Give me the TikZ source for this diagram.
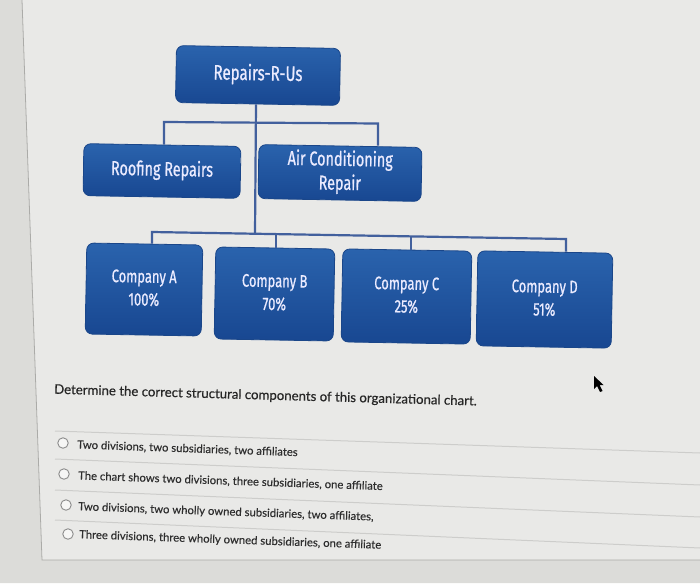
\documentclass[tikz,border=0pt]{standalone}
\usepackage{fontspec}
\setmainfont{Lato}
\newfontfamily\boxfont[FakeStretch=0.72,FakeBold=0.7]{Fira Sans}
\newfontfamily\qfont[FakeBold=0.45]{Lato}
\newfontfamily\ofont[FakeBold=0.3]{Lato}
\usetikzlibrary{calc}
\definecolor{bg}{HTML}{E9E9E7}
\definecolor{bgdark}{HTML}{DCDCD9}
\definecolor{edge}{HTML}{ABABA8}
\definecolor{boxtop}{HTML}{2A63AD}
\definecolor{boxbot}{HTML}{184791}
\definecolor{boxedge}{HTML}{1A4689}
\definecolor{conn}{HTML}{42609D}
\definecolor{sep}{HTML}{CDCDCB}
\definecolor{qtext}{HTML}{262626}
\definecolor{otext}{HTML}{2E2E2E}
\definecolor{radio}{HTML}{8C8C8C}
\newcommand{\boxtext}[2]{\raisebox{#1}{\begin{tabular}{@{}c@{}}#2\end{tabular}}}
\tikzset{
  orgbox/.style={rectangle, rounded corners=7pt, inner sep=0pt, top color=boxtop, bottom color=boxbot,
    draw=boxedge, line width=0.8pt, text=white!92!blue, align=center, rotate=-1},
  bigtext/.style={font=\boxfont\fontsize{20}{24}\selectfont},
  smalltext/.style={font=\boxfont\fontsize{18}{23}\selectfont},
  connline/.style={draw=conn, line width=2.2pt},
  sepline/.style={draw=sep, line width=1pt},
  radiobtn/.style={circle, draw=radio, line width=0.9pt, minimum size=10.5pt, inner sep=0pt, fill=white!60!bg},
  opttext/.style={anchor=west, rotate=-2, inner sep=0pt, text=otext, font=\ofont\fontsize{11.3}{13}\selectfont}
}
\begin{document}
\begin{tikzpicture}[x=1pt,y=-1pt]
\useasboundingbox (0,0) rectangle (700,583);
\fill[bg] (0,0) rectangle (700,583);
\fill[bgdark] (0,0) -- (22,0) -- (42,560) -- (700,560) -- (700,583) -- (0,583) -- cycle;
\draw[edge, line width=0.8pt] (22,0) -- (42,560) -- (700,560);

% boxes
\node[orgbox, bigtext, minimum width=164pt, minimum height=57pt] (top) at (258,75.5) {\boxtext{-2.5pt}{\fontsize{21}{24}\selectfont Repairs-R-Us}};
\node[orgbox, bigtext, minimum width=157pt, minimum height=52pt] (roof) at (162,171) {\boxtext{-2pt}{Roofing Repairs}};
\node[orgbox, bigtext, minimum width=163pt, minimum height=54pt] (ac) at (340,173) {\boxtext{-2pt}{Air Conditioning\\Repair}};
\node[orgbox, smalltext, minimum width=116pt, minimum height=91pt] (ca) at (144,289.5) {\boxtext{-3.5pt}{Company A\\100\%}};
\node[orgbox, smalltext, minimum width=119pt, minimum height=92pt] (cb) at (274.5,294) {\boxtext{-3.5pt}{Company B\\70\%}};
\node[orgbox, smalltext, minimum width=129pt, minimum height=93pt] (cc) at (406.5,296.5) {\boxtext{-3.5pt}{Company C\\25\%}};
\node[orgbox, smalltext, minimum width=135pt, minimum height=95pt] (cd) at (544.5,299.5) {\boxtext{-2pt}{Company D\\51\%}};

% connector points
\coordinate (tbL) at (164,122);
\coordinate (tbM) at (256,122.5);
\coordinate (tbR) at (378,123.5);
\coordinate (bbL) at (152,232);
\coordinate (bbM) at (255,233.7);
\coordinate (bbB) at (276,234.1);
\coordinate (bbC) at (411,236.4);
\coordinate (bbR) at (566,239);

\draw[connline] (top.south -| tbM) -- (bbM);
\draw[connline] (roof.north -| tbL) -- (tbL) -- (tbR) -- (ac.north -| tbR);
\draw[connline] (ca.north -| bbL) -- (bbL) -- (bbR) -- (cd.north -| bbR);
\draw[connline] (bbB) -- (cb.north -| bbB);
\draw[connline] (bbC) -- (cc.north -| bbC);

% question
\node[anchor=west, rotate=-1.6, inner sep=0pt, text=qtext, font=\qfont\fontsize{13.2}{16}\selectfont] (q) at (54,390)
  {Determine the correct structural components of this organizational chart.};

% cursor
\fill[black] (594,376) -- (594,389) -- (597,386) -- (600,392) -- (602.5,391) -- (599.5,385) -- (603.5,385) -- cycle;

% separators
\draw[sepline] (55,431) -- (700,453);
\draw[sepline] (55,459) -- (700,485);
\draw[sepline] (55,490) -- (700,517);
\draw[sepline] (55,520) -- (700,548);

% options
\node[radiobtn] (r1) at (63,443) {};
\node[radiobtn] (r2) at (64,474) {};
\node[radiobtn] (r3) at (66,505) {};
\node[radiobtn] (r4) at (68,534) {};
\node[opttext] (o1) at (77,445) {Two divisions, two subsidiaries, two affiliates};
\node[opttext] (o2) at (78,476) {The chart shows two divisions, three subsidiaries, one affiliate};
\node[opttext] (o3) at (78,507) {Two divisions, two wholly owned subsidiaries, two affiliates,};
\node[opttext] (o4) at (79,535) {Three divisions, three wholly owned subsidiaries, one affiliate};
\end{tikzpicture}
\end{document}
